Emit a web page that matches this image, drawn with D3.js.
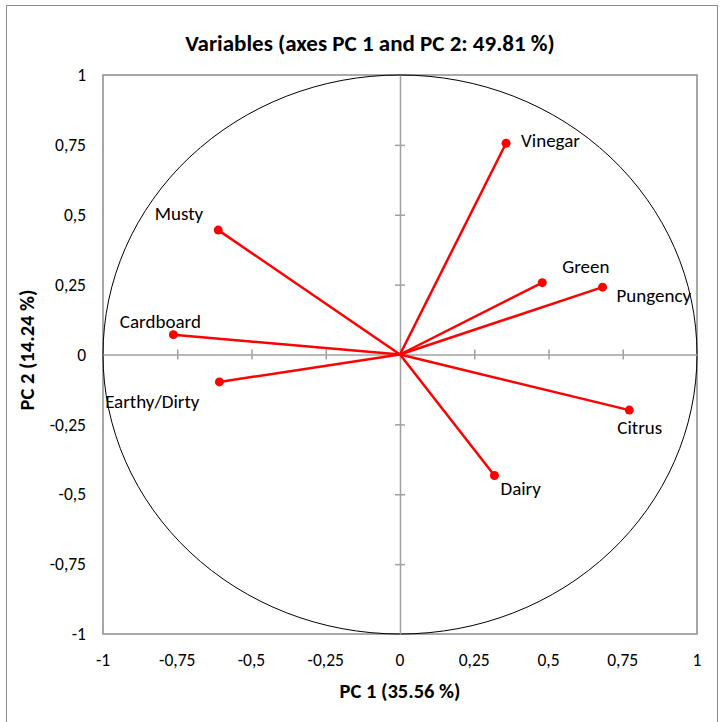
<!DOCTYPE html>
<html>
<head>
<meta charset="utf-8">
<script src="https://cdn.jsdelivr.net/npm/d3@7"></script>
<style>
  body { margin: 0; background: #fff; }
  svg { display: block; font-family: Calibri, Carlito, Lato, "Open Sans", sans-serif; }
</style>
</head>
<body>
<svg id="chart" width="723" height="722"></svg>
<script>
"use strict";

// variables and their loadings on PC 1 / PC 2
var variables = ["Vinegar", "Green", "Pungency", "Citrus", "Dairy", "Musty", "Cardboard", "Earthy/Dirty"];
var pc1 = [0.357, 0.479, 0.682, 0.772, 0.318, -0.612, -0.763, -0.608];
var pc2 = [0.756, 0.257, 0.241, -0.199, -0.433, 0.445, 0.071, -0.098];

var tickValues = [-1, -0.75, -0.5, -0.25, 0, 0.25, 0.5, 0.75, 1];
var tickLabels = ["-1", "-0,75", "-0,5", "-0,25", "0", "0,25", "0,5", "0,75", "1"];

var chartTitle = "Variables (axes PC 1 and PC 2: 49.81 %)";
var xTitle = "PC 1 (35.56 %)";
var yTitle = "PC 2 (14.24 %)";

// where each label sits relative to its point
var labelPos = {
  "Vinegar":      {dx: 15,  dy: 4,   anchor: "start"},
  "Green":        {dx: 20,  dy: -10, anchor: "start"},
  "Pungency":     {dx: 14,  dy: 15,  anchor: "start"},
  "Citrus":       {dx: -12, dy: 24,  anchor: "start"},
  "Dairy":        {dx: 6,   dy: 19,  anchor: "start"},
  "Musty":        {dx: -15, dy: -10, anchor: "end"},
  "Cardboard":    {dx: -13, dy: -7,  anchor: "middle"},
  "Earthy/Dirty": {dx: -20, dy: 26,  anchor: "end"}
};

function drawChart() {
  var svg = d3.select("#chart"),
      plotLeft = 103, plotRight = 697, plotTop = 75, plotBottom = 634;

  var x = d3.scaleLinear().domain([-1, 1]).range([plotLeft, plotRight]);
  var y = d3.scaleLinear().domain([-1, 1]).range([plotBottom, plotTop]);

  var points = variables.map(function(v, i) {
    return {name: v, x: pc1[i], y: pc2[i]};
  });

  // outer chart frame
  svg.append("rect")
      .attr("x", 6.5).attr("y", 5.5)
      .attr("width", 711).attr("height", 740)
      .attr("fill", "none")
      .attr("stroke", "#8c8c8c")
      .attr("stroke-width", 1);

  // plot area
  svg.append("rect")
      .attr("x", plotLeft).attr("y", plotTop)
      .attr("width", plotRight - plotLeft).attr("height", plotBottom - plotTop)
      .attr("fill", "none")
      .attr("stroke", "#8c8c8c")
      .attr("stroke-width", 1.5);

  // correlation circle
  svg.append("ellipse")
      .attr("cx", x(0)).attr("cy", y(0))
      .attr("rx", x(1) - x(0)).attr("ry", y(0) - y(1))
      .attr("fill", "none")
      .attr("stroke", "#000")
      .attr("stroke-width", 1);

  var innerTicks = tickValues.filter(function(d) { return d > -1 && d < 1; });

  // axes through the origin
  var gx = svg.append("g")
      .attr("transform", "translate(0," + y(0) + ")")
      .call(d3.axisBottom(x).tickValues(innerTicks).tickSizeInner(5).tickSizeOuter(0).tickFormat(""));
  gx.selectAll(".tick line").attr("y1", -5);

  var gy = svg.append("g")
      .attr("transform", "translate(" + x(0) + ",0)")
      .call(d3.axisLeft(y).tickValues(innerTicks).tickSizeInner(5).tickSizeOuter(0).tickFormat(""));
  gy.selectAll(".tick line").attr("x1", 5);

  svg.selectAll(".domain, .tick line")
      .attr("stroke", "#a0a0a0")
      .attr("stroke-width", 1.5);

  // tick labels along the plot edges
  svg.append("g").selectAll("text")
      .data(tickValues)
    .enter().append("text")
      .attr("x", function(d) { return x(d); })
      .attr("y", plotBottom + 32)
      .attr("text-anchor", "middle")
      .attr("font-size", 17.5)
      .attr("fill", "#000")
      .text(function(d, i) { return tickLabels[i]; });

  svg.append("g").selectAll("text")
      .data(tickValues)
    .enter().append("text")
      .attr("x", plotLeft - 17)
      .attr("y", function(d) { return y(d); })
      .attr("dy", "0.35em")
      .attr("text-anchor", "end")
      .attr("font-size", 17.5)
      .attr("fill", "#000")
      .text(function(d, i) { return tickLabels[i]; });

  // vectors
  svg.append("g").selectAll("line")
      .data(points)
    .enter().append("line")
      .attr("x1", x(0)).attr("y1", y(0))
      .attr("x2", function(d) { return x(d.x); })
      .attr("y2", function(d) { return y(d.y); })
      .attr("stroke", "#ff0000")
      .attr("stroke-width", 2.5);

  svg.append("g").selectAll("circle")
      .data(points)
    .enter().append("circle")
      .attr("cx", function(d) { return x(d.x); })
      .attr("cy", function(d) { return y(d.y); })
      .attr("r", 4.5)
      .attr("fill", "#ff0000");

  svg.append("g").selectAll("text")
      .data(points)
    .enter().append("text")
      .attr("x", function(d) { return x(d.x) + labelPos[d.name].dx; })
      .attr("y", function(d) { return y(d.y) + labelPos[d.name].dy; })
      .attr("text-anchor", function(d) { return labelPos[d.name].anchor; })
      .attr("font-size", 19)
      .attr("fill", "#000")
      .text(function(d) { return d.name; });

  // titles
  svg.append("text")
      .attr("x", 370).attr("y", 51)
      .attr("text-anchor", "middle")
      .attr("font-size", 23)
      .attr("font-weight", "bold")
      .text(chartTitle);

  svg.append("text")
      .attr("x", 400).attr("y", 698)
      .attr("text-anchor", "middle")
      .attr("font-size", 20.5)
      .attr("font-weight", "bold")
      .text(xTitle);

  svg.append("text")
      .attr("transform", "translate(34,350) rotate(-90)")
      .attr("text-anchor", "middle")
      .attr("font-size", 20.5)
      .attr("font-weight", "bold")
      .text(yTitle);
}

drawChart();
</script>
</body>
</html>
